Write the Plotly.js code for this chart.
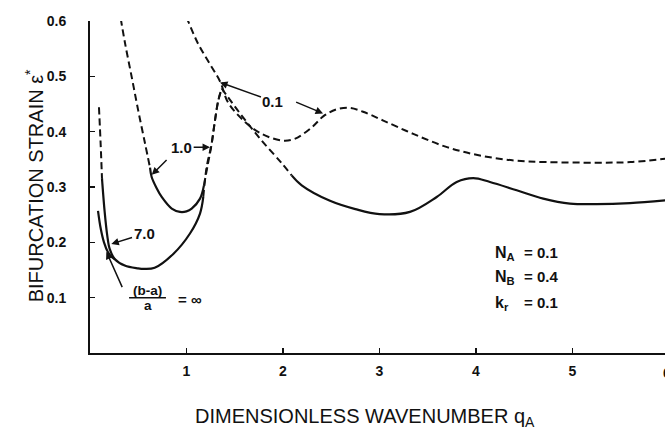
<!DOCTYPE html>
<html>
<head>
<meta charset="utf-8">
<script src="https://cdn.plot.ly/plotly-3.0.1.min.js"></script>
<style>html,body{margin:0;padding:0;background:#fff;}#chart{width:665px;height:430px;}</style>
</head>
<body>
<div id="chart"></div>
<script>
// (b-a)/a = 0.1 curve (dashed)
const q01 = [1.00, 1.12, 1.24, 1.35, 1.43, 1.61, 1.78, 1.99, 2.12, 2.30, 2.42, 2.55, 2.69, 2.83, 3.04, 3.35, 3.70, 4.04, 4.39, 4.73, 5.25, 5.60, 5.96];
const e01 = [0.607, 0.559, 0.523, 0.490, 0.453, 0.417, 0.396, 0.384, 0.387, 0.408, 0.428, 0.440, 0.443, 0.436, 0.420, 0.396, 0.372, 0.357, 0.348, 0.345, 0.344, 0.345, 0.351];

// (b-a)/a = 1.0 curve
const q10Dash = [0.318, 0.363, 0.432, 0.500, 0.570, 0.622];
const e10Dash = [0.605, 0.560, 0.499, 0.438, 0.379, 0.335];
const q10Solid = [0.622, 0.639, 0.690, 0.743, 0.847, 0.933, 1.000, 1.054, 1.140, 1.181];
const e10Solid = [0.335, 0.318, 0.298, 0.282, 0.261, 0.255, 0.256, 0.261, 0.279, 0.303];
const q10Rise = [1.181, 1.220, 1.261, 1.295, 1.330, 1.365];
const e10Rise = [0.303, 0.340, 0.378, 0.420, 0.457, 0.478];

// (b-a)/a = 7.0 curve
const q70Dash = [0.093, 0.111, 0.124];
const e70Dash = [0.444, 0.375, 0.316];
const q70Solid = [0.124, 0.127, 0.152, 0.179, 0.204, 0.256, 0.360, 0.497, 0.560, 0.670, 0.863, 1.036, 1.140, 1.174];
const e70Solid = [0.316, 0.309, 0.255, 0.212, 0.188, 0.170, 0.158, 0.153, 0.152, 0.154, 0.179, 0.216, 0.252, 0.282];
const q70Rise = [1.174, 1.209, 1.258, 1.293, 1.328, 1.365];
const e70Rise = [0.282, 0.336, 0.376, 0.418, 0.455, 0.478];

// (b-a)/a = infinity curve (joins 7.0)
const qInf = [0.083, 0.111, 0.145, 0.187, 0.228, 0.260];
const eInf = [0.257, 0.225, 0.200, 0.182, 0.173, 0.169];

// common branch beyond the peak
const qEnvDash = [1.365, 1.572, 1.779, 1.987, 2.090];
const eEnvDash = [0.478, 0.429, 0.384, 0.343, 0.321];
const qEnvSolid = [2.090, 2.194, 2.487, 2.750, 3.000, 3.316, 3.593, 3.800, 3.972, 4.145, 4.422, 4.697, 4.974, 5.251, 5.596, 5.960];
const eEnvSolid = [0.321, 0.303, 0.275, 0.260, 0.251, 0.255, 0.282, 0.309, 0.316, 0.309, 0.294, 0.279, 0.270, 0.269, 0.271, 0.276];

const xTicks = [1, 2, 3, 4, 5];
const yTicks = [0.1, 0.2, 0.3, 0.4, 0.5, 0.6];
const yTickText = ['0.1', '0.2', '0.3', '0.4', '0.5', '0.6'];

const FONT = 'Liberation Sans, Arial, sans-serif';
const INK = '#111';
const dashStyle = {color: INK, width: 2, dash: '7px,4px'};
const solidStyle = {color: INK, width: 2.2};

function tr(x, y, line) {
  return {x: x, y: y, mode: 'lines', type: 'scatter', line: Object.assign({shape: 'spline', smoothing: 1.0}, line), hoverinfo: 'skip', showlegend: false};
}

const data = [
  tr(q01, e01, dashStyle),
  tr(q10Dash, e10Dash, dashStyle),
  tr(q10Solid, e10Solid, solidStyle),
  tr(q10Rise, e10Rise, dashStyle),
  tr(q70Dash, e70Dash, dashStyle),
  tr(q70Solid, e70Solid, solidStyle),
  tr(q70Rise, e70Rise, dashStyle),
  tr(qInf, eInf, solidStyle),
  tr(qEnvDash, eEnvDash, dashStyle),
  tr(qEnvSolid, eEnvSolid, solidStyle)
];

function bf(size) { return {family: FONT, size: size, color: INK, weight: 'bold'}; }
const labFont = bf(15);
const arrow = {showarrow: true, arrowhead: 2, arrowsize: 1, arrowwidth: 1.5, arrowcolor: INK, axref: 'x', ayref: 'y'};
const txt = {xref: 'x', yref: 'y', showarrow: false, yanchor: 'middle', borderpad: 0};

const annotations = [
  Object.assign({x: 1.347, y: 0.489, ax: 1.896, ay: 0.455, text: '0.1', font: labFont}, arrow),
  Object.assign({x: 2.415, y: 0.433, ax: 2.10, ay: 0.456, text: ' ', font: labFont}, arrow),
  Object.assign({x: 1.244, y: 0.372, ax: 0.950, ay: 0.372, text: '1.0', font: labFont}, arrow),
  Object.assign({x: 0.640, y: 0.322, ax: 0.830, ay: 0.355, text: ' ', font: labFont}, arrow),
  Object.assign({x: 0.221, y: 0.197, ax: 0.560, ay: 0.2155, text: '7.0', font: labFont}, arrow),
  Object.assign({x: 0.170, y: 0.183, ax: 0.370, ay: 0.105, text: ' ', font: labFont}, arrow),
  Object.assign({x: 0.596, y: 0.1135, text: '(b-a)', font: bf(13.5)}, txt),
  Object.assign({x: 0.596, y: 0.0855, text: 'a', font: bf(13.5)}, txt),
  Object.assign({x: 0.905, y: 0.0975, xanchor: 'left', text: '= ∞', font: bf(15)}, txt),
  Object.assign({x: 4.19, y: 0.180, xanchor: 'left', text: 'N<sub>A</sub>', font: bf(16)}, txt),
  Object.assign({x: 4.19, y: 0.137, xanchor: 'left', text: 'N<sub>B</sub>', font: bf(16)}, txt),
  Object.assign({x: 4.19, y: 0.090, xanchor: 'left', text: 'k<sub>r</sub>', font: bf(16)}, txt),
  Object.assign({x: 4.49, y: 0.182, xanchor: 'left', text: '= 0.1', font: bf(15)}, txt),
  Object.assign({x: 4.49, y: 0.139, xanchor: 'left', text: '= 0.4', font: bf(15)}, txt),
  Object.assign({x: 4.49, y: 0.092, xanchor: 'left', text: '= 0.1', font: bf(15)}, txt),
  {x: 0.478, y: -0.1935, xref: 'paper', yref: 'paper', xanchor: 'center', yanchor: 'middle', text: 'DIMENSIONLESS WAVENUMBER q<sub>A</sub>', showarrow: false, font: {family: FONT, size: 20, color: INK}},
  {x: -0.0974, y: 0.505, xref: 'paper', yref: 'paper', xanchor: 'center', yanchor: 'middle', textangle: -90, text: 'BIFURCATION STRAIN ε<sup>*</sup>', showarrow: false, font: {family: FONT, size: 20, color: INK}},
  {x: 1.0035, y: -0.0588, xref: 'paper', yref: 'paper', xanchor: 'center', yanchor: 'middle', text: '6', showarrow: false, font: bf(14)}
];

const shapes = [
  {type: 'line', xref: 'x', yref: 'y', x0: 0.405, x1: 0.787, y0: 0.1000, y1: 0.1000, line: {color: INK, width: 1.5}}
];

const layout = {
  width: 665, height: 430,
  margin: {l: 90, r: 0, t: 21, b: 77, pad: 0},
  paper_bgcolor: '#fff', plot_bgcolor: '#fff',
  showlegend: false,
  xaxis: {
    range: [0, 5.959], showgrid: false, zeroline: false,
    showline: true, linecolor: INK, linewidth: 2,
    ticks: 'inside', ticklen: 5, tickwidth: 1.5, tickcolor: INK,
    tickmode: 'array', tickvals: xTicks, ticktext: xTicks.map(String),
    tickfont: bf(14), ticklabelstandoff: 4
  },
  yaxis: {
    range: [0, 0.6], showgrid: false, zeroline: false,
    showline: true, linecolor: INK, linewidth: 2,
    ticks: 'inside', ticklen: 5, tickwidth: 1.5, tickcolor: INK,
    tickmode: 'array', tickvals: yTicks, ticktext: yTickText,
    tickfont: bf(14), ticklabelstandoff: 19
  },
  annotations: annotations,
  shapes: shapes
};

Plotly.newPlot('chart', data, layout, {staticPlot: true, displayModeBar: false});
</script>
</body>
</html>
